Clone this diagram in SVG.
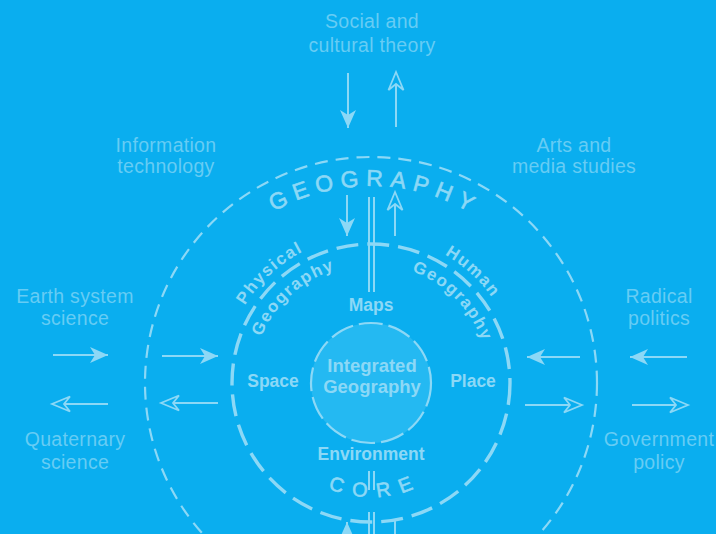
<svg xmlns="http://www.w3.org/2000/svg" width="716" height="534" viewBox="0 0 716 534">
  <defs>
    <style>
      .bg { fill: #0AAEEF; }
      .ring { fill: none; stroke: #8CD8F6; }
      .outer { stroke-width: 2.2; stroke-dasharray: 13 8; }
      .core { stroke-width: 3.4; stroke-dasharray: 22 9; }
      .hub { fill: #24B9F2; stroke-width: 2.2; stroke-dasharray: 24 6; }
      .shaft { fill: none; stroke: #8CD8F6; stroke-width: 2; }
      .label { font-family: "Liberation Sans", Arial, sans-serif; font-size: 19.5px; fill: #66CCF4; text-anchor: middle; letter-spacing: 0.3px; }
      .bold { font-family: "Liberation Sans", Arial, sans-serif; font-weight: bold; fill: #8CD8F6; text-anchor: middle; }
      .curve { font-family: "Liberation Sans", Arial, sans-serif; font-weight: bold; fill: #8CD8F6; text-anchor: middle; }
      .ringname { font-family: "Liberation Sans", Arial, sans-serif; fill: #8CD8F6; stroke: #8CD8F6; stroke-width: 0.6; text-anchor: middle; }
    </style>
    <marker id="solid" markerUnits="userSpaceOnUse" markerWidth="20" markerHeight="18" refX="18" refY="8" orient="auto" overflow="visible">
      <path d="M18,8 L0,0 L5,8 L0,16 Z" fill="#8CD8F6"/>
    </marker>
    <marker id="hollow" markerUnits="userSpaceOnUse" markerWidth="20" markerHeight="18" refX="18" refY="8" orient="auto" overflow="visible">
      <path d="M18,8 L0,0.5 L6,8 L0,15.5 Z" fill="#0AAEEF" stroke="#8CD8F6" stroke-width="1.8" stroke-linejoin="miter"/>
    </marker>
    <!-- text guide arcs around the common centre (371,383) -->
    <path id="arcGeo" d="M174,383 A197,197 0 0 1 568,383"/>
    <path id="arcOut" d="M223,383 A148,148 0 0 1 519,383"/>
    <path id="arcIn" d="M252,383 A119,119 0 0 1 490,383"/>
    <path id="arcCore" d="M257,383 A114,114 0 0 0 485,383"/>
  </defs>

  <rect class="bg" x="0" y="0" width="716" height="534"/>

  <!-- rings -->
  <g id="geography-ring">
    <circle class="ring outer" cx="371" cy="383" r="226"/>
    <text class="ringname" style="font-size:23px;letter-spacing:7px"><textPath href="#arcGeo" startOffset="313">GEOGRAPHY</textPath></text>
  </g>

  <g id="core-ring">
    <circle class="ring core" cx="371" cy="383" r="139"/>
    <text class="ringname" style="font-size:20px;letter-spacing:10px"><textPath href="#arcCore" startOffset="184">CORE</textPath></text>
  </g>

  <g id="physical-geography">
    <text class="curve" style="font-size:17px;letter-spacing:1.5px"><textPath href="#arcOut" startOffset="122">Physical</textPath></text>
    <text class="curve" style="font-size:17px;letter-spacing:1.5px"><textPath href="#arcIn" startOffset="99">Geography</textPath></text>
  </g>

  <g id="human-geography">
    <text class="curve" style="font-size:17px;letter-spacing:1.5px"><textPath href="#arcOut" startOffset="342">Human</textPath></text>
    <text class="curve" style="font-size:17px;letter-spacing:1.5px"><textPath href="#arcIn" startOffset="280">Geography</textPath></text>
  </g>

  <g id="integrated-geography">
    <circle class="ring hub" cx="371" cy="383" r="60"/>
    <text class="bold" x="372" y="372" style="font-size:18.5px">Integrated</text>
    <text class="bold" x="372" y="393" style="font-size:18.5px">Geography</text>
  </g>

  <g id="maps"><text class="bold" x="371" y="311" style="font-size:17.5px">Maps</text></g>
  <g id="space"><text class="bold" x="273" y="387" style="font-size:17.5px">Space</text></g>
  <g id="place"><text class="bold" x="473" y="387" style="font-size:17.5px">Place</text></g>
  <g id="environment"><text class="bold" x="371" y="460" style="font-size:17.5px">Environment</text></g>

  <!-- outside disciplines -->
  <g id="social-cultural-theory">
    <text class="label" x="372" y="28">Social and</text>
    <text class="label" x="372" y="52">cultural theory</text>
  </g>
  <g id="information-technology">
    <text class="label" x="166" y="152">Information</text>
    <text class="label" x="166" y="173">technology</text>
  </g>
  <g id="arts-media-studies">
    <text class="label" x="574" y="152">Arts and</text>
    <text class="label" x="574" y="173">media studies</text>
  </g>
  <g id="earth-system-science">
    <text class="label" x="75" y="303">Earth system</text>
    <text class="label" x="75" y="325">science</text>
  </g>
  <g id="radical-politics">
    <text class="label" x="659" y="303">Radical</text>
    <text class="label" x="659" y="325">politics</text>
  </g>
  <g id="quaternary-science">
    <text class="label" x="75" y="446">Quaternary</text>
    <text class="label" x="75" y="469">science</text>
  </g>
  <g id="government-policy">
    <text class="label" x="659" y="446">Government</text>
    <text class="label" x="659" y="469">policy</text>
  </g>

  <!-- connectors -->
  <g id="connectors">
    <!-- top -->
    <line class="shaft" x1="348" y1="73" x2="348" y2="128" marker-end="url(#solid)"/>
    <line class="shaft" x1="396" y1="127" x2="396" y2="72" marker-end="url(#hollow)"/>
    <line class="shaft" x1="347" y1="195" x2="347" y2="236" marker-end="url(#solid)"/>
    <line class="shaft" x1="395" y1="236" x2="395" y2="192" marker-end="url(#hollow)"/>
    <line class="shaft" x1="369" y1="197" x2="369" y2="292"/>
    <line class="shaft" x1="374" y1="197" x2="374" y2="292"/>
    <!-- bottom -->
    <line class="shaft" x1="369" y1="471" x2="369" y2="490"/>
    <line class="shaft" x1="374" y1="471" x2="374" y2="490"/>
    <line class="shaft" x1="369" y1="512" x2="369" y2="534"/>
    <line class="shaft" x1="374" y1="512" x2="374" y2="534"/>
    <line class="shaft" x1="347" y1="540" x2="347" y2="522" marker-end="url(#solid)"/>
    <line class="shaft" x1="395" y1="521" x2="395" y2="534"/>
    <!-- left -->
    <line class="shaft" x1="53" y1="355" x2="108" y2="355" marker-end="url(#solid)"/>
    <line class="shaft" x1="108" y1="404" x2="52" y2="404" marker-end="url(#hollow)"/>
    <line class="shaft" x1="162" y1="356" x2="218" y2="356" marker-end="url(#solid)"/>
    <line class="shaft" x1="218" y1="403" x2="161" y2="403" marker-end="url(#hollow)"/>
    <!-- right -->
    <line class="shaft" x1="580" y1="357" x2="527" y2="357" marker-end="url(#solid)"/>
    <line class="shaft" x1="525" y1="405" x2="582" y2="405" marker-end="url(#hollow)"/>
    <line class="shaft" x1="687" y1="357" x2="630" y2="357" marker-end="url(#solid)"/>
    <line class="shaft" x1="632" y1="405" x2="688" y2="405" marker-end="url(#hollow)"/>
  </g>
</svg>
